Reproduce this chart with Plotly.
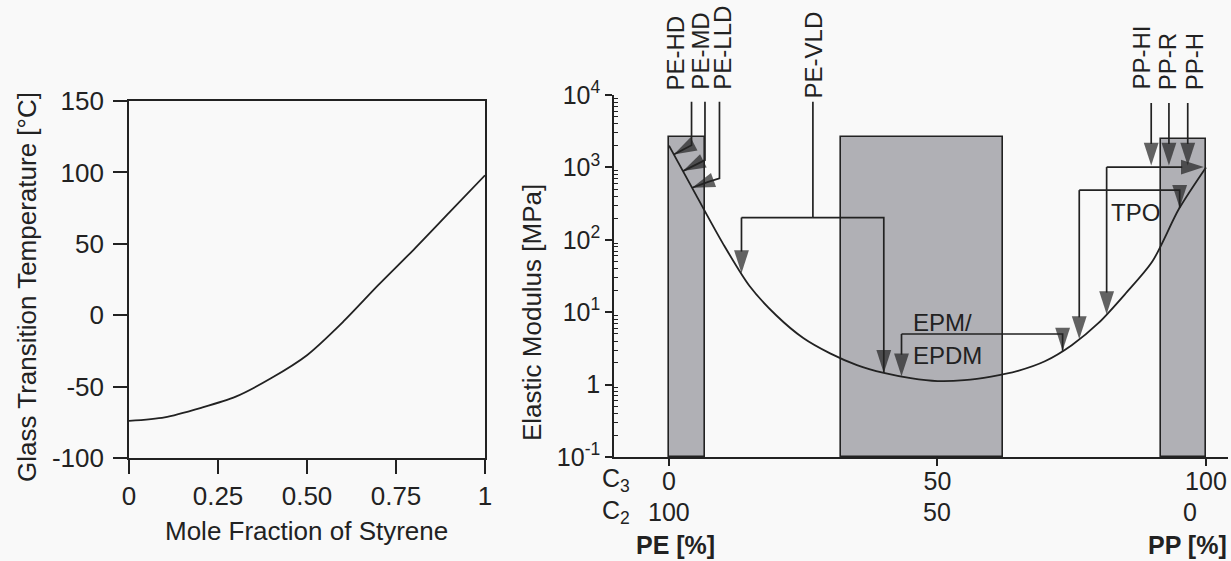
import numpy as np
import plotly.graph_objects as go

# ---- Left panel: glass transition temperature vs. styrene content ----
styrene_fraction = [0, 0.1, 0.2, 0.3, 0.4, 0.5, 0.6, 0.7, 0.8, 0.9, 1.0]
glass_transition_c = [-74, -71.5, -65, -57, -44, -28, -5, 21, 46, 72, 98]
tg_tickvals = [-100, -50, 0, 50, 100, 150]
tg_ticktext = ["-100", "-50", "0", "50", "100", "150"]
frac_tickvals = [0, 0.25, 0.5, 0.75, 1]
frac_ticktext = ["0", "0.25", "0.50", "0.75", "1"]

# ---- Right panel: elastic modulus across the C2/C3 composition range ----
c3_content = [0, 5, 10, 15, 20, 25, 30, 35, 40, 45, 50,
              55, 60, 65, 70, 75, 80, 85, 90, 95, 100]
modulus_mpa = [2000, 420, 90, 23, 9, 4.4, 2.7, 1.86, 1.45, 1.23, 1.12,
               1.15, 1.29, 1.55, 2.1, 3.5, 7.1, 18, 50, 270, 1000]
band_start = [0, 32.1, 91.6]      # PE grades, EPM/EPDM, PP grades
band_end = [6.7, 62.2, 100]
band_top = [2650, 2600, 2450]
modulus_tickvals = [0.1, 1, 10, 100, 1000, 10000]
modulus_ticktext = ["10<sup>-1</sup>", "1", "10<sup>1</sup>", "10<sup>2</sup>",
                    "10<sup>3</sup>", "10<sup>4</sup>"]
c3_tickvals = [0, 50, 100]
c3_ticktext = ["0", "50", "100"]
c2_ticktext = ["100", "50", "0"]

INK = "#222222"
BAND = "#b0b0b5"
FONT = "Liberation Sans, Arial, sans-serif"
FS = 25

W, H = 1231, 561


def px(xp):
    return xp / W


def py(yp):
    return (H - yp) / H


def curve_at(x):
    """Modulus on the composition curve at a given C3 content."""
    return float(10 ** np.interp(x, c3_content, np.log10(modulus_mpa)))


fig = go.Figure()

fig.add_trace(go.Scatter(
    x=styrene_fraction, y=glass_transition_c, mode="lines",
    line=dict(color=INK, width=1.8, shape="spline", smoothing=0.8),
    xaxis="x", yaxis="y", hoverinfo="skip"))

# composition bands
ymin = modulus_tickvals[0]
fig.add_trace(go.Bar(
    x=[(a + b) / 2 for a, b in zip(band_start, band_end)],
    width=[b - a for a, b in zip(band_start, band_end)],
    y=band_top, base=[ymin] * len(band_top),
    marker=dict(color=BAND, line=dict(color=INK, width=1.6)),
    xaxis="x2", yaxis="y2", hoverinfo="skip"))

fig.add_trace(go.Scatter(
    x=c3_content, y=modulus_mpa, mode="lines",
    line=dict(color=INK, width=1.8, shape="spline", smoothing=0.8),
    xaxis="x2", yaxis="y2", hoverinfo="skip"))


def leader(points, head=24):
    xs = [p[0] for p in points]
    ys = [p[1] for p in points]
    sizes = [0] * (len(points) - 1) + [head]
    fig.add_trace(go.Scatter(
        x=xs, y=ys, mode="lines+markers",
        line=dict(color=INK, width=1.7),
        marker=dict(symbol="arrow", size=sizes, angleref="previous",
                    color=INK, line=dict(width=0)),
        xaxis="x2", yaxis="y2", hoverinfo="skip", cliponaxis=False))


# PE grades
leader([(4.2, 8070), (4.2, 2030), (0.9, curve_at(0.9))])
leader([(6.7, 8070), (6.7, 1260), (2.6, curve_at(2.6))])
leader([(9.4, 8070), (9.4, 705), (7.3, 630), (4.3, curve_at(4.3))])
# PE-VLD
leader([(26.8, 8070), (26.8, 203), (13.5, 203), (13.5, curve_at(13.5))])
leader([(26.8, 203), (40.0, 203), (40.0, curve_at(40.0))])
# EPM / EPDM
leader([(43.3, 5.0), (43.3, curve_at(43.3))])
leader([(43.3, 5.0), (73.3, 5.0), (73.3, curve_at(73.3))])
# TPO
leader([(81.5, 1010), (81.5, curve_at(81.5))])
leader([(81.5, 1010), (99.6, 1010)])
leader([(76.4, 485), (76.4, curve_at(76.4))])
leader([(76.4, 485), (95.1, 485), (95.1, curve_at(95.1))])
# PP grades
for xv in (89.8, 93.1, 96.6):
    leader([(xv, 7760), (xv, 1060)])

ann = []


def text(t, x, y, xref="paper", yref="paper", xa="center", ya="middle",
         angle=0, size=FS, bold=False, xshift=0):
    ann.append(dict(text=f"<b>{t}</b>" if bold else t, x=x, y=y, xref=xref,
                    yref=yref, xanchor=xa, yanchor=ya, textangle=angle,
                    xshift=xshift, showarrow=False,
                    font=dict(family=FONT, size=size, color=INK)))


# axis titles
text("Glass Transition Temperature [°C]", px(27), py(287), angle=-90, size=26)
text("Mole Fraction of Styrene", px(306), py(531), size=26)
text("Elastic Modulus [MPa]", px(532), py(313), angle=-90, size=26)

# grade labels (rotated)
for label, xv, bottom in [("PE-HD", 1.3, 92), ("PE-MD", 5.8, 92),
                          ("PE-LLD", 10.0, 92), ("PE-VLD", 27.0, 100),
                          ("PP-HI", 88.0, 92), ("PP-R", 92.9, 92),
                          ("PP-H", 97.9, 92)]:
    text(label, xv, py(bottom), xref="x2", ya="bottom", angle=-90, size=24)

text("EPM/", 45.0, py(322), xref="x2", xa="left", size=24)
text("EPDM", 45.0, py(356), xref="x2", xa="left", size=24)
text("TPO", 82.0, py(212), xref="x2", xa="left", size=24)

# composition axis: C3 row on ticks, C2 row underneath
text("C<sub>3</sub>", px(600), py(480), xa="left")
text("C<sub>2</sub>", px(600), py(512), xa="left")
for xv, t, shift in zip(c3_tickvals, c2_ticktext, [0, 0, -16]):
    text(t, xv, py(512), xref="x2", xshift=shift)
text("PE [%]", px(634), py(545), xa="left", bold=True)
text("PP [%]", px(1229), py(545), xa="right", bold=True)

axis_common = dict(showgrid=False, zeroline=False, showline=True,
                   linecolor=INK, linewidth=1.6, ticks="outside",
                   tickcolor=INK, tickwidth=1.6, automargin=False,
                   tickfont=dict(family=FONT, size=26, color=INK))

minor_vals = [k * 10 ** p for p in range(-1, 4) for k in range(2, 10)]

fig.update_layout(
    width=W, height=H,
    margin=dict(l=0, r=0, t=0, b=0, pad=0, autoexpand=False),
    paper_bgcolor="#f9f9f9", plot_bgcolor="rgba(0,0,0,0)",
    showlegend=False, bargap=0,
    xaxis=dict(axis_common, domain=[px(129), px(485)], range=[0, 1],
               mirror=True, ticklen=14, tickmode="array",
               tickvals=frac_tickvals, ticktext=frac_ticktext, anchor="y"),
    yaxis=dict(axis_common, domain=[py(458), py(101)], range=[-100, 150],
               mirror=True, ticklen=14, tickmode="array",
               tickvals=tg_tickvals, ticktext=tg_ticktext, anchor="x",
               ticklabelstandoff=4),
    xaxis2=dict(axis_common, domain=[px(614), px(1228)],
                range=[-10.24, 104.1], ticklen=7, tickmode="array",
                tickvals=c3_tickvals, ticktext=c3_ticktext, anchor="y2",
                ticklabelstandoff=-6,
                tickfont=dict(family=FONT, size=FS, color=INK)),
    yaxis2=dict(axis_common, type="log", domain=[py(457), py(95)],
                range=[-1, 4], ticklen=7, tickmode="array",
                tickvals=modulus_tickvals, ticktext=modulus_ticktext,
                anchor="x2", tickfont=dict(family=FONT, size=FS, color=INK),
                minor=dict(ticks="inside", ticklen=4, tickcolor=INK,
                           tickwidth=1, tickmode="array", tickvals=minor_vals,
                           showgrid=False)),
    annotations=ann,
)

fig.write_html("out.html")
